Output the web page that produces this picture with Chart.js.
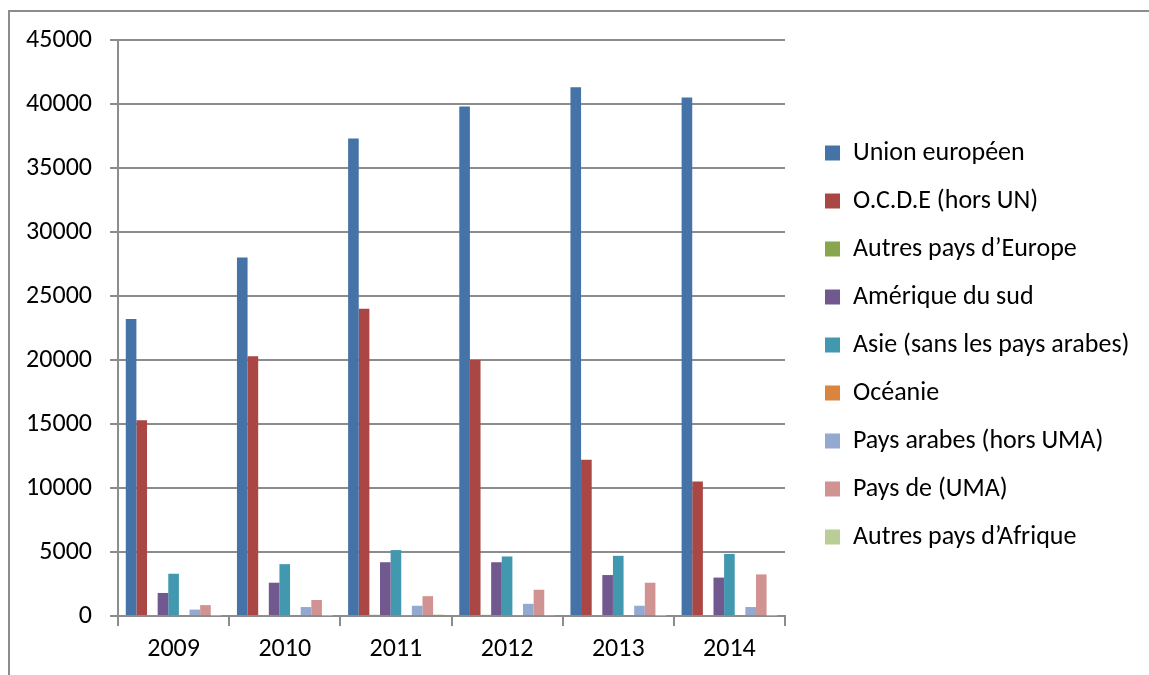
<!DOCTYPE html>
<html>
<head>
<meta charset="utf-8">
<title>Exportations par zone</title>
<script src="https://cdn.jsdelivr.net/npm/chart.js"></script>
<style>
  html, body { margin: 0; padding: 0; background: white; }
  #wrap { position: relative; width: 1149px; height: 675px; overflow: hidden; }
  #frame { position: absolute; left: 8px; top: 10px; width: 1200px; height: 700px;
           border-left: 2px solid #8c8c8c; border-top: 2px solid #8c8c8c; }
  canvas { position: absolute; left: 0; top: 0; }
</style>
</head>
<body>
<div id="wrap">
  <div id="frame"></div>
  <canvas id="chart" width="1149" height="675"></canvas>
</div>
<script>
const years = ['2009', '2010', '2011', '2012', '2013', '2014'];

const unionEuropeen = [23200, 28000, 37300, 39800, 41300, 40500];
const ocde          = [15300, 20300, 24000, 20000, 12200, 10500];
const autresEurope  = [20, 30, 90, 90, 30, 20];
const ameriqueSud   = [1800, 2600, 4200, 4200, 3200, 3000];
const asie          = [3300, 4050, 5150, 4650, 4700, 4850];
const oceanie       = [0, 0, 10, 10, 0, 0];
const paysArabes    = [500, 700, 800, 950, 800, 700];
const paysUMA       = [850, 1250, 1550, 2050, 2600, 3250];
const autresAfrique = [30, 20, 110, 50, 20, 20];

const yTicks = [0, 5000, 10000, 15000, 20000, 25000, 30000, 35000, 40000, 45000];

const series = [
  ['Union européen', unionEuropeen, '#4572A7'],
  ['O.C.D.E (hors UN)', ocde, '#AA4643'],
  ['Autres pays d\u2019Europe', autresEurope, '#89A54E'],
  ['Amérique du sud', ameriqueSud, '#71588F'],
  ['Asie (sans les pays arabes)', asie, '#4198AF'],
  ['Océanie', oceanie, '#DB843D'],
  ['Pays arabes (hors UMA)', paysArabes, '#93A9CF'],
  ['Pays de (UMA)', paysUMA, '#D19392'],
  ['Autres pays d\u2019Afrique', autresAfrique, '#B9CD96']
];

const gray = '#8c8c8c';
const fontFamily = "Carlito, Calibri, 'Liberation Sans', Arial, sans-serif";

// legend sits to the right of the plot, like the Excel original
const legendPlace = {
  id: 'legendPlace',
  beforeLayout(chart) {
    const lg = chart.legend;
    if (!lg || lg._patched) return;
    const fit = lg.fit;
    lg.fit = function () { fit.call(this); this.width = 1149 - 785; };
    lg._patched = true;
  },
  afterLayout(chart) {
    const lg = chart.legend;
    lg.left = chart.chartArea.right + 18;
    lg.right = lg.left + 340;
    lg.top = 118;
    lg.bottom = lg.top + 480;
  }
};

new Chart(document.getElementById('chart'), {
  type: 'bar',
  data: {
    labels: years,
    datasets: series.map(([label, data, color]) => ({
      label,
      data,
      backgroundColor: color,
      borderWidth: 0
    }))
  },
  options: {
    responsive: false,
    animation: false,
    layout: { padding: { top: 40, left: 0, right: 0, bottom: 0 } },
    datasets: { bar: { categoryPercentage: 0.86, barPercentage: 1 } },
    plugins: {
      legend: {
        position: 'right',
        align: 'start',
        labels: {
          boxWidth: 15,
          boxHeight: 15,
          padding: 22,
          color: '#000',
          font: { family: fontFamily, size: 26 }
        }
      },
      tooltip: { enabled: false }
    },
    scales: {
      x: {
        afterFit: s => { s.height = 59; },
        grid: { drawOnChartArea: false, drawTicks: true, tickLength: 10, color: gray, lineWidth: 2, offset: true },
        border: { display: true, color: gray, width: 2 },
        ticks: { color: '#000', padding: 8, font: { family: fontFamily, size: 26 } }
      },
      y: {
        min: 0,
        max: 45000,
        afterFit: s => { s.width = 118; },
        afterBuildTicks: s => { s.ticks = yTicks.map(v => ({ value: v })); },
        grid: { color: gray, lineWidth: 2, tickLength: 8 },
        border: { display: true, color: gray, width: 2 },
        ticks: {
          color: '#000',
          padding: 18,
          font: { family: fontFamily, size: 26 },
          callback: v => String(v)
        }
      }
    }
  },
  plugins: [legendPlace]
});
</script>
</body>
</html>
